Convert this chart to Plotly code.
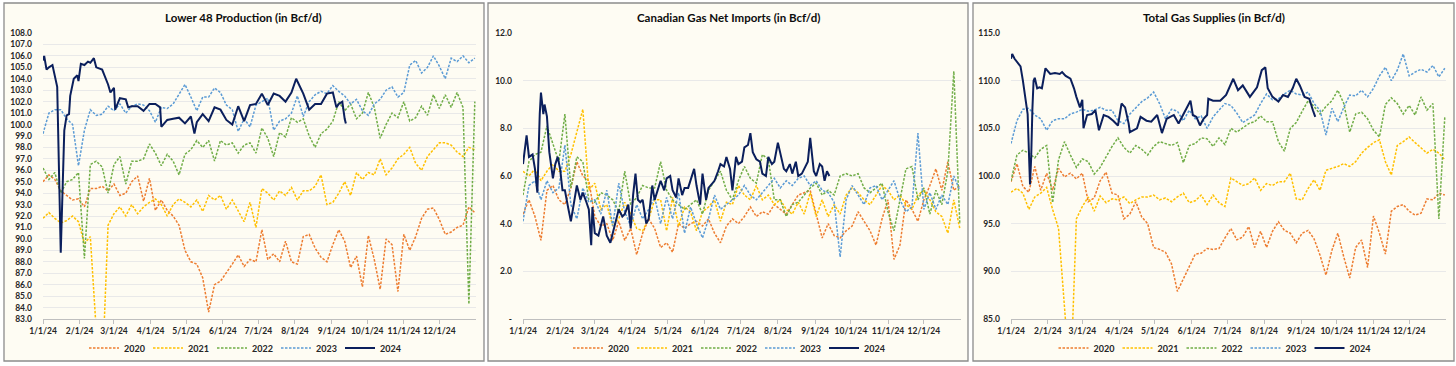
import plotly.graph_objects as go
from datetime import date, timedelta

# ---------------- data ----------------
# 2020-2023 series: values read every 5 days starting 1/1 (grid below).
# 2024 series: values read at the listed day offsets from 1/1.
STEP_DAYS = 5
START = date(2024, 1, 1)
YEARS = ["2020", "2021", "2022", "2023", "2024"]

# Lower 48 production (Bcf/d)
L48_2020 = [95.0, 95.6, 95.2, 94.2, 93.8, 93.4, 93.5, 92.8, 94.4, 94.4,
            94.6, 94.2, 94.8, 93.8, 94.0, 95.0, 95.5, 93.3, 95.3, 92.5,
            93.4, 92.5, 92.0, 91.2, 89.0, 88.0, 87.8, 86.6, 83.6, 86.0,
            86.3, 87.0, 87.8, 88.6, 87.6, 88.2, 88.0, 90.8, 88.2, 88.7,
            88.0, 89.8, 88.0, 87.8, 90.2, 90.4, 89.2, 88.4, 88.0, 89.5,
            90.8, 89.8, 87.5, 88.5, 85.8, 90.3, 88.2, 85.6, 90.0, 89.5,
            85.4, 90.4, 89.0, 90.2, 91.8, 92.6, 92.7, 91.7, 90.4, 90.6,
            91.0, 91.2, 92.8, 92.3]
L48_2021 = [91.8, 92.3, 91.8, 91.4, 91.6, 92.0, 91.5, 89.6, 90.2, 82.0,
            78.0, 91.2, 92.2, 92.8, 92.0, 93.0, 92.2, 92.8, 93.2, 93.5,
            93.0, 92.0, 93.0, 93.5, 93.2, 92.8, 93.4, 92.4, 93.8, 93.4,
            93.8, 92.6, 93.4, 92.5, 91.5, 93.2, 91.0, 94.4, 94.0, 93.4,
            94.2, 93.8, 94.5, 93.4, 94.2, 94.2, 94.6, 95.6, 93.0, 93.2,
            94.0, 95.0, 93.8, 95.8, 95.2, 95.8, 95.6, 97.0, 95.6, 96.2,
            97.0, 97.4, 98.0, 96.6, 96.0, 97.2, 97.8, 98.4, 98.4, 98.2,
            97.6, 97.2, 98.0, 97.8]
L48_2022 = [96.2, 95.2, 95.8, 94.0, 95.0, 95.2, 95.8, 88.3, 96.5, 96.8,
            96.3, 94.0, 96.5, 97.2, 94.8, 96.8, 96.8, 97.0, 98.3, 97.5,
            96.4, 97.4, 96.8, 95.6, 97.4, 97.8, 98.6, 98.0, 98.6, 96.8,
            98.6, 98.2, 98.4, 97.5, 98.2, 98.4, 97.5, 99.7, 98.8, 97.2,
            99.3, 98.9, 100.6, 100.2, 100.5, 99.0, 98.0, 99.2, 99.6, 100.3,
            102.0, 101.2, 101.8, 100.5, 101.0, 102.8, 101.5, 98.8, 100.0, 101.0,
            100.6, 102.0, 100.3, 100.6, 101.6, 100.8, 102.6, 101.4, 102.6, 101.5,
            102.8, 101.5, 84.3, 102.0]
L48_2023 = [99.2, 101.0, 101.3, 101.3, 100.5, 100.0, 96.4, 99.5, 101.3, 100.8,
            100.9, 101.6, 101.2, 101.8, 101.0, 101.6, 101.8, 101.7, 101.2, 100.2,
            101.5, 101.4, 101.8, 102.6, 103.5, 102.4, 101.2, 102.4, 102.4, 103.2,
            102.8, 101.7, 101.3, 99.4, 100.5, 99.8, 101.7, 102.0, 102.3, 99.5,
            100.3, 100.5, 101.0, 102.5, 100.7, 102.0, 102.6, 102.9, 102.7, 103.4,
            102.9, 102.5, 101.8, 102.2, 101.2, 100.8, 101.8, 102.2, 103.0, 103.3,
            102.4, 102.8, 105.2, 105.6, 104.5, 105.0, 106.0, 105.1, 104.0, 105.8,
            105.5, 106.0, 105.4, 105.8]
L48_2024_DAYS = [0, 1, 3, 5, 8, 10, 11, 12, 15, 17,
                 18, 20, 22, 23, 26, 29, 30, 32, 35, 38,
                 40, 43, 45, 50, 55, 57, 60, 61, 65, 70,
                 72, 75, 80, 85, 90, 95, 99, 100, 105, 110,
                 115, 120, 125, 128, 130, 135, 140, 145, 150, 155,
                 160, 165, 170, 175, 180, 185, 190, 195, 200, 205,
                 210, 214, 220, 225, 230, 235, 240, 245, 248, 250,
                 253, 255, 256]
L48_2024 = [105.6, 106.0, 104.8, 105.0, 105.2, 104.2, 103.5, 103.3, 88.8, 95.0,
            99.5, 100.8, 100.9, 102.5, 104.0, 104.3, 103.8, 105.3, 105.2, 105.5,
            105.4, 105.8, 105.0, 104.8, 103.5, 102.8, 103.2, 101.3, 102.3, 102.2,
            101.5, 101.6, 101.6, 101.2, 101.8, 101.8, 101.5, 99.8, 100.4, 100.5,
            100.6, 100.1, 100.7, 99.2, 100.2, 100.9, 100.3, 101.5, 101.3, 100.4,
            100.0, 101.6, 100.3, 101.7, 101.8, 102.7, 101.7, 102.7, 102.5, 102.0,
            102.8, 104.0, 102.7, 101.3, 101.8, 101.8, 102.7, 102.8, 101.5, 101.8,
            102.0, 100.5, 100.1]

# Canadian gas net imports (Bcf/d)
CAN_2020 = [4.4, 5.0, 4.3, 3.3, 5.4, 5.6, 5.0, 4.8, 5.5, 6.6,
            6.0, 5.8, 4.3, 3.9, 4.0, 3.3, 4.1, 3.3, 3.8, 2.7,
            3.6, 4.2, 3.8, 3.0, 3.2, 2.8, 4.0, 3.8, 4.0, 4.1,
            3.9, 4.2, 3.6, 3.2, 3.9, 4.2, 4.0, 4.3, 4.7, 4.3,
            4.5, 4.4, 4.8, 4.6, 4.4, 4.8, 5.2, 5.3, 5.4, 4.4,
            3.4, 4.0, 3.5, 3.4, 3.7, 3.9, 4.5, 4.1, 3.7, 3.1,
            4.2, 5.0, 2.5, 3.1, 5.0, 4.6, 4.1, 5.0, 5.6, 6.3,
            5.4, 6.6, 5.4, 5.6]
CAN_2021 = [6.2, 6.0, 6.3, 5.8, 6.2, 6.5, 6.2, 6.2, 6.9, 7.8,
            8.8, 5.4, 5.7, 4.6, 4.8, 3.9, 4.2, 4.9, 4.4, 3.8,
            3.7, 4.2, 5.0, 5.0, 3.7, 5.1, 3.9, 4.7, 4.5, 3.7,
            4.5, 4.7, 5.0, 4.1, 4.9, 4.8, 5.6, 5.2, 5.0, 5.6,
            5.0, 5.2, 4.8, 5.0, 4.6, 4.4, 4.9, 4.4, 5.3, 4.3,
            5.0, 4.3, 4.8, 4.4, 5.2, 5.5, 5.3, 5.0, 4.8, 5.2,
            5.6, 5.4, 5.0, 5.2, 4.8, 4.6, 5.2, 5.4, 5.0, 4.5,
            4.3, 3.6, 5.0, 3.8]
CAN_2022 = [5.2, 6.6, 6.9, 7.0, 8.1, 7.3, 6.6, 8.6, 5.5, 6.8,
            6.6, 5.0, 4.9, 5.3, 5.2, 5.0, 4.5, 6.2, 4.8, 5.1,
            5.6, 5.5, 5.5, 6.6, 5.4, 5.0, 4.8, 4.6, 4.8, 5.0,
            4.4, 5.4, 5.8, 6.2, 5.4, 5.0, 5.8, 6.4, 5.9, 5.7,
            6.9, 6.7, 5.0, 5.0, 4.3, 4.8, 4.9, 5.2, 5.5, 5.7,
            5.2, 5.4, 5.2, 6.0, 6.1, 6.0, 6.1, 5.5, 5.3, 5.5,
            5.7, 4.5, 3.7, 5.0, 6.3, 6.4, 5.0, 5.5, 4.4, 5.4,
            4.8, 6.2, 10.4, 4.0]
CAN_2023 = [4.1, 5.6, 5.8, 5.0, 5.8, 5.3, 5.5, 7.3, 4.8, 4.2,
            5.5, 4.9, 5.0, 4.4, 5.4, 3.9, 5.7, 4.5, 3.9, 4.8,
            4.2, 4.6, 5.1, 4.0, 5.1, 4.2, 5.3, 3.6, 4.7, 4.0,
            3.4, 4.2, 5.2, 4.6, 4.8, 5.0, 5.2, 5.6, 5.2, 5.0,
            5.3, 5.6, 5.9, 5.5, 5.8, 5.6, 5.9, 6.0, 5.6, 5.8,
            5.4, 5.3, 4.9, 2.6, 5.0, 5.6, 5.2, 4.8, 5.5, 5.6,
            5.0, 5.4, 5.8, 5.0, 4.5, 4.7, 7.8, 4.6, 5.3, 4.6,
            5.2, 4.8, 6.0, 5.4]
CAN_2024_DAYS = [0, 3, 5, 8, 10, 12, 14, 15, 17, 18,
                 20, 22, 25, 27, 29, 31, 33, 35, 38, 40,
                 43, 45, 48, 50, 53, 55, 57, 58, 60, 63,
                 65, 67, 70, 73, 75, 78, 80, 83, 85, 88,
                 90, 92, 94, 96, 98, 100, 103, 105, 108, 110,
                 113, 115, 118, 120, 123, 125, 128, 130, 133, 135,
                 138, 140, 143, 145, 148, 150, 153, 155, 158, 160,
                 163, 165, 168, 170, 173, 175, 178, 180, 183, 185,
                 188, 190, 192, 195, 198, 200, 203, 205, 208, 210,
                 213, 215, 218, 220, 223, 225, 228, 230, 233, 235,
                 238, 240, 243, 245, 248, 250, 252, 254, 256]
CAN_2024 = [6.5, 7.7, 6.8, 6.9, 6.3, 5.3, 8.6, 9.5, 8.6, 9.0,
            8.5, 7.0, 5.9, 6.5, 6.8, 6.3, 5.4, 5.4, 4.6, 4.1,
            5.0, 5.6, 5.0, 5.3, 4.9, 4.6, 3.1, 4.7, 3.6, 3.5,
            3.9, 4.3, 3.5, 3.2, 3.6, 4.2, 4.6, 4.3, 4.4, 4.8,
            3.8, 5.2, 6.1, 5.0, 4.9, 5.0, 4.0, 4.2, 5.6, 5.0,
            5.5, 5.8, 5.4, 5.9, 6.0, 5.4, 5.1, 5.9, 5.2, 5.5,
            5.5, 5.8, 6.3, 5.6, 4.8, 6.1, 5.0, 5.5, 5.7, 5.8,
            6.2, 6.5, 6.4, 6.8, 6.3, 5.4, 6.8, 6.5, 6.6, 7.2,
            7.3, 7.8, 7.0, 6.7, 6.6, 6.1, 6.0, 6.8, 6.5, 6.6,
            7.4, 6.9, 6.3, 6.2, 6.5, 6.1, 6.6, 6.0, 6.1, 6.3,
            6.6, 7.6, 6.2, 6.0, 6.5, 6.4, 5.8, 6.2, 6.0]

# Total gas supplies (Bcf/d)
TOT_2020 = [99.4, 101.3, 98.9, 98.3, 101.0, 98.5, 100.3, 98.5, 100.8, 99.9,
            100.3, 99.7, 100.3, 97.3, 97.7, 99.5, 100.4, 98.2, 98.0, 95.5,
            96.0, 97.3, 95.7, 95.0, 92.5, 92.3, 92.0, 90.8, 87.9, 89.2,
            90.5, 91.8, 91.9, 92.4, 92.3, 92.4, 93.5, 94.5, 93.3, 93.6,
            94.7, 92.5, 94.2, 92.5, 94.2, 95.2, 94.3, 94.0, 93.0, 94.0,
            94.3, 93.4, 91.7, 89.6, 92.2, 94.0, 91.5, 89.3, 92.5, 93.3,
            90.4, 95.8, 94.0, 91.8, 96.3, 96.8, 97.0, 96.3, 95.9, 96.1,
            97.6, 97.5, 98.2, 98.0]
TOT_2021 = [98.3, 98.7, 98.2, 96.5, 97.8, 98.2, 98.8, 96.5, 94.5, 85.0,
            78.0, 95.5, 96.8, 97.8, 96.3, 97.9, 97.2, 97.6, 97.5, 97.8,
            97.1, 97.5, 97.8, 97.8, 98.0, 97.5, 97.7, 97.3, 97.8, 98.2,
            97.2, 97.4, 98.0, 97.0, 98.0, 97.2, 96.8, 99.8, 99.4, 99.0,
            99.2, 99.8, 98.5, 99.2, 99.0, 99.4, 99.4, 100.3, 97.6, 97.5,
            98.7, 99.6, 98.5, 100.6, 100.8, 101.0, 101.3, 101.0, 101.5, 102.4,
            103.0, 103.5, 103.8, 101.5, 100.1, 103.2, 103.6, 104.1, 103.5, 102.9,
            102.4, 102.8, 102.4, 101.7]
TOT_2022 = [99.5, 102.2, 102.7, 102.4, 101.9, 102.8, 103.2, 97.2, 101.7, 103.6,
            102.2, 100.9, 101.8, 101.5, 100.2, 100.9, 102.0, 103.1, 104.0, 103.0,
            102.4, 103.2, 102.8, 102.2, 103.1, 103.6, 103.4, 103.2, 103.5, 101.4,
            103.2, 103.4, 104.0, 103.9, 103.1, 104.0, 103.3, 105.0, 104.6, 105.1,
            105.5, 105.7, 106.3, 105.7, 105.7, 103.6, 102.6, 105.0, 105.6, 106.8,
            107.9, 107.3, 106.5, 107.3, 107.9, 109.0, 107.6, 104.6, 106.5, 106.7,
            106.0, 104.8, 104.1, 107.5, 108.2, 107.6, 106.5, 107.4, 106.4, 108.3,
            106.9, 107.6, 95.5, 106.2]
TOT_2023 = [103.4, 105.8, 107.0, 107.1, 106.4, 106.0, 104.8, 105.8, 106.0, 106.0,
            106.5, 106.7, 107.0, 106.8, 106.9, 107.2, 106.9, 106.9, 105.8, 105.5,
            106.5, 107.1, 107.8, 108.2, 108.8, 107.6, 106.0, 107.0, 106.8, 105.8,
            106.9, 106.0, 106.3, 105.0, 106.2, 106.9, 107.6, 107.4, 106.6, 105.6,
            106.0, 106.4, 107.6, 108.6, 108.0, 108.1, 108.6, 109.0, 108.6, 108.5,
            108.8, 107.6, 106.9, 104.3, 107.1, 105.7, 107.2, 108.5, 108.4, 109.0,
            108.3, 109.2, 110.5, 111.4, 110.0, 111.1, 112.8, 110.5, 110.9, 111.2,
            110.9, 111.6, 110.4, 111.3]
TOT_2024_DAYS = [0, 1, 3, 5, 8, 10, 12, 14, 16, 17,
                 18, 19, 20, 22, 24, 26, 29, 33, 37, 41,
                 43, 46, 50, 53, 55, 58, 60, 61, 64, 68,
                 71, 74, 78, 82, 86, 90, 93, 96, 99, 100,
                 106, 109, 114, 118, 123, 127, 131, 137, 141, 145,
                 151, 153, 156, 159, 162, 165, 166, 170, 176, 181,
                 187, 191, 195, 201, 207, 211, 214, 216, 220, 225,
                 229, 233, 237, 240, 243, 247, 251, 254, 256]
TOT_2024 = [112.3, 112.8, 112.3, 112.0, 111.5, 110.0, 108.0, 106.5, 99.1, 102.0,
            107.0, 110.0, 110.3, 109.2, 109.3, 109.2, 111.3, 110.7, 110.8, 110.7,
            110.9, 110.5, 110.2, 109.2, 108.3, 107.2, 108.0, 105.0, 106.4, 106.5,
            106.9, 104.8, 106.4, 106.2, 105.8, 105.3, 107.6, 107.2, 105.5, 104.6,
            105.0, 106.2, 105.8, 105.7, 106.4, 104.5, 106.0, 106.4, 105.5, 106.5,
            107.9, 106.4, 106.2, 105.3, 106.0, 106.4, 108.1, 107.9, 107.9, 108.5,
            110.2, 109.0, 109.5, 108.3, 109.3, 111.1, 111.4, 109.2, 108.3, 107.8,
            108.5, 108.3, 109.2, 110.2, 109.5, 108.3, 108.1, 106.9, 106.2]

MONTH_LABELS = ["1/1/24", "2/1/24", "3/1/24", "4/1/24", "5/1/24", "6/1/24",
                "7/1/24", "8/1/24", "9/1/24", "10/1/24", "11/1/24", "12/1/24"]

L48_TICKS = [83 + i for i in range(26)]
L48_TICK_LABELS = [f"{v:.1f}" for v in L48_TICKS]
CAN_TICKS = [0, 2, 4, 6, 8, 10, 12]
CAN_TICK_LABELS = ["-", "2.0", "4.0", "6.0", "8.0", "10.0", "12.0"]
TOT_TICKS = [85, 90, 95, 100, 105, 110, 115]
TOT_TICK_LABELS = ["85.0", "90.0", "95.0", "100.0", "105.0", "110.0", "115.0"]

# ---------------- styling ----------------
W, H = 1456, 366
FONT = "Lato, 'Open Sans', sans-serif"
CREAM = "#FEFCF3"
GRID = "#E9E9E9"
AXIS = "#BFBFBF"
TEXT = "#262626"
STYLE = {
    "2020": dict(color="#ED7D31", width=1.5, dash="2.5px,1.5px"),
    "2021": dict(color="#FFC000", width=1.5, dash="2.5px,1.5px"),
    "2022": dict(color="#70AD47", width=1.5, dash="2.5px,1.5px"),
    "2023": dict(color="#5B9BD5", width=1.5, dash="2.5px,1.5px"),
    "2024": dict(color="#0B1F5C", width=2.0, dash="solid"),
}

PANELS = [
    dict(title="Lower 48 Production (in Bcf/d)",
         series=[L48_2020, L48_2021, L48_2022, L48_2023, L48_2024],
         days_2024=L48_2024_DAYS,
         yrange=[83, 108], ticks=L48_TICKS, labels=L48_TICK_LABELS,
         plot=(43, 476), box=(4, 484)),
    dict(title="Canadian Gas Net Imports (in Bcf/d)",
         series=[CAN_2020, CAN_2021, CAN_2022, CAN_2023, CAN_2024],
         days_2024=CAN_2024_DAYS,
         yrange=[0, 12], ticks=CAN_TICKS, labels=CAN_TICK_LABELS,
         plot=(523, 961), box=(488, 968)),
    dict(title="Total Gas Supplies (in Bcf/d)",
         series=[TOT_2020, TOT_2021, TOT_2022, TOT_2023, TOT_2024],
         days_2024=TOT_2024_DAYS,
         yrange=[85, 115], ticks=TOT_TICKS, labels=TOT_TICK_LABELS,
         plot=(1011, 1446), box=(973, 1454)),
]
PLOT_TOP, PLOT_BOTTOM = 33, 319
BOX_TOP, BOX_BOTTOM = 3, 361


def grid_dates(values):
    return [START + timedelta(days=STEP_DAYS * i) for i in range(len(values))]


def day_dates(days):
    return [START + timedelta(days=d) for d in days]


month_ticks = [date(2024, m, 1) for m in range(1, 13)]

fig = go.Figure()
layout = dict(
    width=W, height=H,
    margin=dict(l=0, r=0, t=0, b=0, pad=0, autoexpand=False),
    paper_bgcolor="white", plot_bgcolor=CREAM,
    font=dict(family=FONT, color=TEXT, size=8),
    shapes=[], annotations=[], hovermode=False,
)

for i, p in enumerate(PANELS):
    n = "" if i == 0 else str(i + 1)
    legend_name = "legend" + n
    for year, vals in zip(YEARS, p["series"]):
        st = STYLE[year]
        xs = day_dates(p["days_2024"]) if year == "2024" else grid_dates(vals)
        fig.add_trace(go.Scatter(
            x=xs, y=vals, mode="lines", name=year,
            line=dict(color=st["color"], width=st["width"], dash=st["dash"]),
            xaxis="x" + n, yaxis="y" + n, legend=legend_name,
        ))
    x0, x1 = p["plot"]
    bx0, bx1 = p["box"]
    layout["xaxis" + n] = dict(
        domain=[x0 / W, x1 / W], anchor="y" + n, type="date",
        range=[date(2024, 1, 1), date(2025, 1, 1)],
        tickvals=month_ticks, ticktext=MONTH_LABELS, tickangle=0,
        tickfont=dict(family=FONT, size=8.5, color=TEXT, weight="bold"),
        showgrid=False, showline=True, linecolor=AXIS, linewidth=1,
        ticks="outside", ticklen=4, tickcolor=AXIS, zeroline=False,
        automargin=False, fixedrange=True,
    )
    layout["yaxis" + n] = dict(
        domain=[1 - PLOT_BOTTOM / H, 1 - PLOT_TOP / H], anchor="x" + n,
        range=p["yrange"], tickvals=p["ticks"], ticktext=p["labels"],
        tickfont=dict(family=FONT, size=8.5, color=TEXT, weight="bold"),
        showgrid=True, gridcolor=GRID, gridwidth=1, zeroline=False,
        showline=False, ticks="", ticklabelstandoff=10,
        automargin=False, fixedrange=True,
    )
    layout[legend_name] = dict(
        orientation="h", x=(bx0 + bx1) / 2 / W, xanchor="center",
        y=1 - 348 / H, yanchor="middle", bgcolor="rgba(0,0,0,0)",
        font=dict(family=FONT, size=9, color=TEXT, weight="bold"),
        itemwidth=30, entrywidth=19, tracegroupgap=0,
    )
    layout["shapes"].append(dict(
        type="rect", xref="paper", yref="paper", layer="below",
        x0=bx0 / W, x1=bx1 / W, y0=1 - BOX_BOTTOM / H, y1=1 - BOX_TOP / H,
        fillcolor=CREAM, line=dict(color="#8C8C8C", width=1.3),
    ))
    layout["annotations"].append(dict(
        text=f"<b>{p['title']}</b>", xref="paper", yref="paper",
        x=(bx0 + bx1) / 2 / W, y=1 - 17 / H, xanchor="center", yanchor="middle",
        showarrow=False, font=dict(family=FONT, size=11.5, color="#0D0D0D"),
    ))

fig.update_layout(**layout)

PIN_PAGE = (
    "document.documentElement.style.margin='0';"
    "document.documentElement.style.overflow='hidden';"
    "document.body.style.margin='0';"
    "document.body.style.overflow='hidden';"
    "var gd=document.getElementById('{plot_id}');"
    "gd.style.position='fixed';gd.style.left='0px';gd.style.top='0px';"
)
fig.write_html("out.html", config={"displayModeBar": False, "staticPlot": True},
               post_script=PIN_PAGE)
